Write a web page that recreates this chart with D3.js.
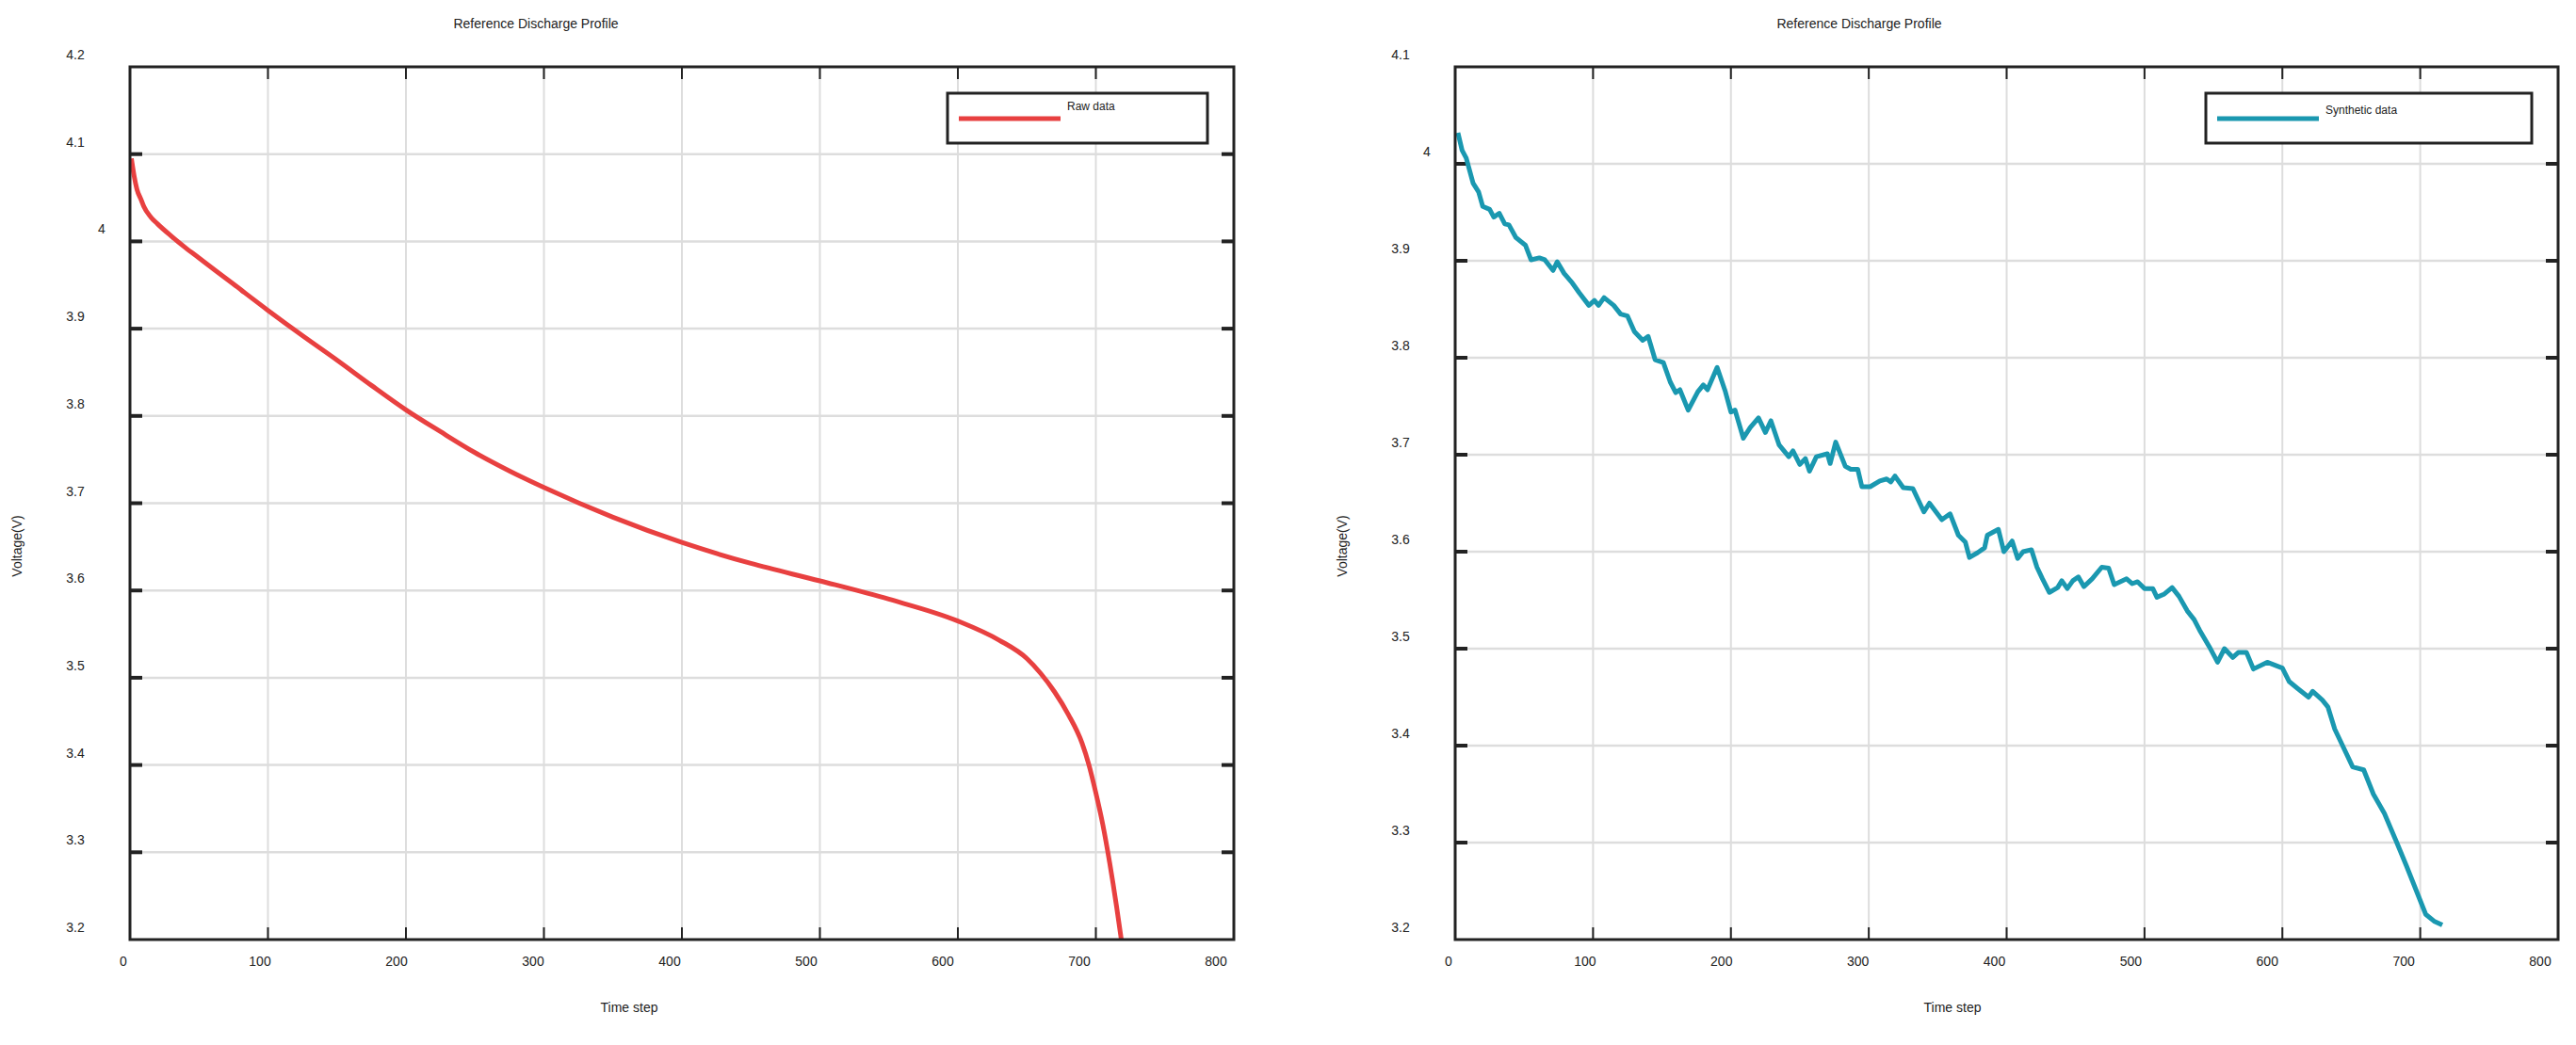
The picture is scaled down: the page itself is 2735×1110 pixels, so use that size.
<!DOCTYPE html>
<html><head><meta charset="utf-8">
<script src="https://cdn.jsdelivr.net/npm/d3@7"></script>
<style>body{margin:0;background:#fff}text{font-family:"Liberation Sans Narrow","Liberation Sans",Arial,sans-serif;fill:#222}</style>
</head><body><svg id="c" width="2735" height="1110"></svg>
<script>
const xTicks=[0,100,200,300,400,500,600,700,800];
const rawT=[1,3,5,8,10,15,20,30,40,50,75,100,125,150,175,200,225,250,275,300,350,400,450,500,550,600,630,650,660,670,680,690,695,700,705,710,715,718,721];
const rawV=[4.095,4.075,4.06,4.048,4.04,4.028,4.02,4.006,3.993,3.981,3.951,3.921,3.892,3.864,3.835,3.807,3.782,3.758,3.737,3.718,3.684,3.655,3.631,3.611,3.59,3.565,3.543,3.522,3.505,3.484,3.458,3.425,3.40,3.368,3.332,3.288,3.238,3.205,3.17];
const synT=[2,5,8,13,17,20,25,28,32,36,39,44,51,55,61,65,71,74,79,85,90,97,101,104,108,115,120,125,130,136,140,145,151,156,160,163,169,176,180,183,190,196,200,203,209,214,220,225,229,235,242,245,250,254,257,262,270,272,276,283,287,292,295,301,308,313,316,319,325,332,340,344,353,359,365,370,373,379,384,386,394,398,404,408,412,418,422,426,431,437,440,444,448,452,456,462,469,474,478,487,491,495,500,506,509,514,520,525,531,536,540,547,553,558,564,568,574,579,589,600,605,611,619,622,629,633,638,644,651,659,666,674,683,690,697,704,710,716];
const synV=[4.032,4.014,4.006,3.98,3.971,3.956,3.953,3.945,3.949,3.938,3.937,3.924,3.916,3.901,3.903,3.901,3.89,3.899,3.887,3.877,3.867,3.854,3.859,3.854,3.862,3.854,3.845,3.843,3.827,3.818,3.822,3.798,3.795,3.775,3.764,3.767,3.746,3.765,3.772,3.767,3.79,3.765,3.744,3.746,3.717,3.728,3.738,3.723,3.735,3.71,3.698,3.704,3.69,3.696,3.683,3.698,3.701,3.691,3.713,3.688,3.685,3.685,3.667,3.667,3.673,3.675,3.672,3.678,3.666,3.665,3.641,3.65,3.633,3.639,3.617,3.61,3.594,3.599,3.604,3.617,3.623,3.6,3.611,3.593,3.6,3.602,3.584,3.572,3.558,3.563,3.57,3.562,3.57,3.574,3.564,3.572,3.584,3.583,3.566,3.572,3.567,3.569,3.562,3.562,3.553,3.556,3.563,3.554,3.539,3.53,3.519,3.502,3.486,3.5,3.491,3.496,3.496,3.479,3.486,3.48,3.466,3.459,3.45,3.456,3.447,3.44,3.417,3.399,3.378,3.375,3.35,3.33,3.3,3.276,3.251,3.226,3.219,3.215];
const leftYTicks=[3.2,3.3,3.4,3.5,3.6,3.7,3.8,3.9,4.0,4.1,4.2];
const rightYTicks=[3.2,3.3,3.4,3.5,3.6,3.7,3.8,3.9,4.0,4.1];
const titles=["Reference Discharge Profile","Reference Discharge Profile"];
const legendNames=["Raw data","Synthetic data"];
const colors=["#e84040","#1a98b0"];

const svg=d3.select("#c");
function panel(o){
  const g=svg.append("g");
  const x=d3.scaleLinear().domain([0,800]).range([o.L,o.R]);
  const y=d3.scaleLinear().domain(o.yd).range([o.B,o.T]);
  const xl=d3.scaleLinear().domain([0,800]).range([o.L-7,o.R-19]);
  g.selectAll(".gx").data(xTicks.slice(1,-1)).join("line").attr("x1",d=>x(d)).attr("x2",d=>x(d)).attr("y1",o.T).attr("y2",o.B).attr("stroke","#ddd").attr("stroke-width",2);
  g.selectAll(".gy").data(o.yt.slice(1,-1)).join("line").attr("y1",d=>y(d)).attr("y2",d=>y(d)).attr("x1",o.L).attr("x2",o.R).attr("stroke","#ddd").attr("stroke-width",2.5);
  const tk=g.append("g").attr("stroke","#222").attr("stroke-width",2);
  xTicks.slice(1,-1).forEach(d=>{tk.append("line").attr("x1",x(d)).attr("x2",x(d)).attr("y1",o.B).attr("y2",o.B-13);tk.append("line").attr("x1",x(d)).attr("x2",x(d)).attr("y1",o.T).attr("y2",o.T+13);});
  o.yt.slice(1,-1).forEach(d=>{tk.append("line").attr("y1",y(d)).attr("y2",y(d)).attr("x1",o.L).attr("x2",o.L+13).attr("stroke-width",4);tk.append("line").attr("y1",y(d)).attr("y2",y(d)).attr("x1",o.R).attr("x2",o.R-13).attr("stroke-width",4);});
  g.selectAll(".xl").data(xTicks).join("text").attr("x",d=>xl(d)).attr("y",o.B+28).attr("text-anchor","middle").attr("font-size",14).text(d=>d);
  g.selectAll(".yl").data(o.yt).join("text").attr("x",d=>(String(+d.toFixed(1)).length>1?o.L-58:o.L-30)).attr("y",d=>y(d)-8).attr("text-anchor","middle").attr("font-size",14).text(d=>+d.toFixed(1));
  const cid="clip"+o.i;
  svg.append("clipPath").attr("id",cid).append("rect").attr("x",o.L).attr("y",o.T).attr("width",o.R-o.L).attr("height",o.B-o.T);
  g.append("path").datum(o.t.map((t,i)=>[t,o.v[i]])).attr("clip-path",`url(#${cid})`).attr("fill","none").attr("stroke",colors[o.i]).attr("stroke-width",5).attr("stroke-linejoin","round")
   .attr("d",d3.line().curve(o.i?d3.curveLinear:d3.curveMonotoneX).x(d=>x(d[0])).y(d=>y(d[1])));
  g.append("rect").attr("x",o.L).attr("y",o.T).attr("width",o.R-o.L).attr("height",o.B-o.T).attr("fill","none").attr("stroke","#222").attr("stroke-width",3);
  g.append("text").attr("x",o.tx).attr("y",30).attr("text-anchor","middle").attr("font-size",14).text(titles[o.i]);
  g.append("text").attr("x",o.tx+99).attr("y",1075).attr("text-anchor","middle").attr("font-size",14).text("Time step");
  g.append("text").attr("transform",`translate(${o.L-115},580) rotate(-90)`).attr("text-anchor","middle").attr("font-size",14).text("Voltage(V)");
  g.append("rect").attr("x",o.lg[0]).attr("y",99).attr("width",o.lg[1]-o.lg[0]).attr("height",53).attr("fill","#fff").attr("stroke","#222").attr("stroke-width",3);
  g.append("line").attr("x1",o.lg[0]+12).attr("x2",o.lg[0]+120).attr("y1",126).attr("y2",126).attr("stroke",colors[o.i]).attr("stroke-width",5);
  g.append("text").attr("x",o.lg[0]+127).attr("y",o.i?121:117).attr("font-size",12).text(legendNames[o.i]);
}
panel({i:0,L:138,R:1310,T:71,B:998,yd:[3.2,4.2],yt:leftYTicks,t:rawT,v:rawV,tx:569,lg:[1006,1282]});
panel({i:1,L:1545,R:2716,T:71,B:998,yd:[3.2,4.1],yt:rightYTicks,t:synT,v:synV,tx:1974,lg:[2342,2688]});
</script></body></html>
